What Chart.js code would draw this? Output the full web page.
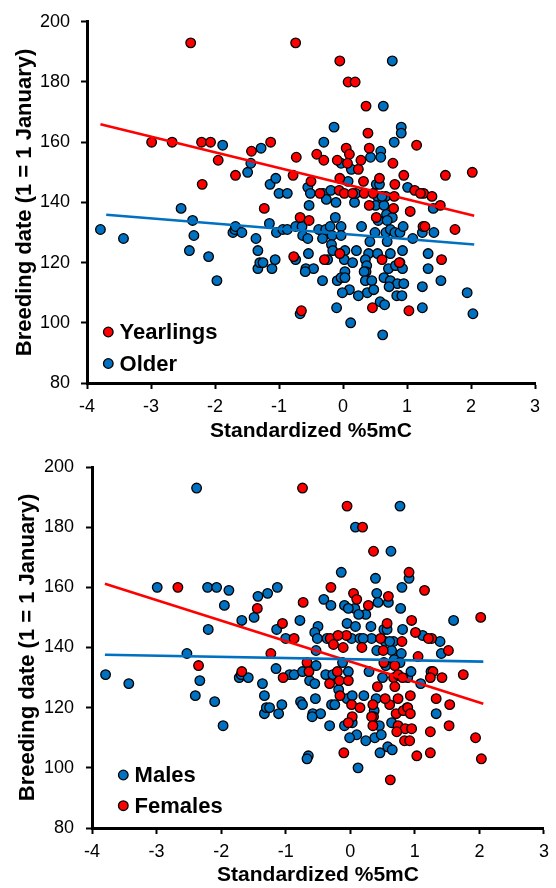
<!DOCTYPE html>
<html>
<head>
<meta charset="utf-8">
<script src="https://cdn.jsdelivr.net/npm/chart.js@4.4.1/dist/chart.umd.min.js"></script>
<style>
  html, body { margin: 0; padding: 0; background: #fff; }
  canvas { display: block; }
</style>
</head>
<body>
<canvas id="top" width="556" height="444"></canvas>
<canvas id="bottom" width="556" height="444"></canvas>
<script>
// ---------- DATA ----------
const yearlingX = [-2.38,-2.99,-2.67,-2.21,-2.07,-1.95,-2.20,-1.68,-1.43,-1.13,
  -1.23,-0.74,-0.05,0.08,0.19,0.36,0.39,1.15,-0.73,-0.41,
  -0.30,0.05,0.10,0.41,-0.09,0.07,0.28,0.24,0.78,0.95,
  1.60,2.02,-0.78,-0.50,-0.05,0.32,0.57,0.81,1.12,1.26,
  1.21,1.39,-0.36,-0.06,0.02,0.15,0.33,0.47,0.80,-0.67,
  -0.53,0.41,0.52,0.79,1.05,1.52,1.25,1.28,1.75,-0.05,
  -0.77,-0.29,0.61,0.88,1.54,0.46,1.03,-0.65];
const yearlingY = [193,160,160,160,160,154,146,149,157,160,
  138,193,187,180,180,172,163,159,155,156,
  154,158,156,158,154,153,154,151,153,149,
  149,150,149,147,148,147,148,146,144,143,
  143,142,143,144,143,143,143,143,142,135,
  134,139,135,138,137,139,132,132,131,123,
  122,121,121,120,121,105,104,104];
const yearlingSex = ("MMFMMMMMMM" + "FFFMFFMFFM" + "MFFMMMFMMF" + "MFMMMMFMMF" +
  "FMMFMMMFFF" + "MMFMFFMFFM" + "MMFFFMFM").split("");

const olderX = [-1.88,-1.49,-1.44,-1.28,-1.14,-1.05,-1.00,-3.79,-3.43,-2.53,
  -2.35,-2.33,-2.40,-2.10,-1.97,-1.72,-1.69,-1.68,-1.58,-1.36,
  -1.33,-1.33,-1.30,-1.25,-1.11,-1.06,-1.15,-1.04,0.77,0.63,
  -0.14,0.91,0.91,-0.30,0.80,0.59,0.43,0.59,-0.03,0.13,
  -0.55,0.08,0.52,0.57,1.01,-0.87,-0.51,-0.31,-0.19,0.54,
  0.67,-0.53,-0.94,-0.87,-0.74,-0.64,-0.63,-0.55,-0.38,-0.32,
  -0.27,-0.20,-0.17,-0.18,-0.16,-0.12,-0.03,-0.03,0.18,0.20,
  0.51,0.64,0.61,0.68,0.77,0.55,0.69,1.41,0.29,0.50,
  0.67,0.69,0.42,0.74,0.81,0.89,0.94,1.09,1.24,1.42,
  0.21,0.03,0.40,0.54,0.74,0.93,1.33,-0.54,-0.74,-0.24,
  0.02,0.15,0.35,0.37,0.36,0.71,0.82,0.89,0.93,1.33,
  -0.58,-0.46,-0.59,0.03,0.33,-0.32,-0.09,-0.03,0.03,0.35,
  0.45,0.64,0.74,0.85,0.95,0.72,1.53,1.24,0.10,-0.01,
  0.38,0.48,0.24,0.84,0.92,1.94,-0.10,0.58,0.65,1.24,
  -0.67,2.03,0.12,0.62,-0.26,-0.11];
const olderY = [159,150,153,158,146,148,143,131,128,138,
  134,129,124,122,114,130,131,132,130,128,
  124,118,120,120,118,121,133,130,187,172,
  165,165,163,160,160,157,155,155,153,151,
  145,147,146,146,145,143,143,143,144,142,
  142,139,131,131,132,132,129,128,131,128,
  131,132,129,126,124,135,132,129,140,143,
  139,139,142,136,135,134,134,138,132,130,
  130,127,127,131,130,130,132,128,130,130,
  124,124,123,123,123,124,123,123,121,121,
  121,120,121,119,117,118,119,120,118,118,
  118,118,117,117,117,114,114,115,115,114,
  114,115,114,113,113,112,114,112,111,110,
  110,111,109,109,109,110,105,107,106,105,
  103,103,100,96,141,140];
const olderSex = ("MMFMMFMMMM" + "FMMMMMMFMM" + "MMMMMMMFMM" + "MFMFMFMMMM" +
  "MMMMFFMFFM" + "MMMMMFMMMF" + "MFFMFMMFFM" + "FMMMMMFMMM" +
  "FFFFFMMMFF" + "MMMFFFFMMM" + "FFFMFFFFFM" + "MMMFFMMFMF" +
  "MMFFFFFFMM" + "MMMFFFFMMF" + "MFMFFF").split("");

// Trend lines (end points)
const yearlingTrendX = [-3.79, 2.05];
const yearlingTrendY = [166.0, 135.6];
const olderTrendX = [-3.70, 2.05];
const olderTrendY = [135.9, 126.0];
const maleTrendX = [-3.80, 2.06];
const maleTrendY = [137.6, 135.3];
const femaleTrendX = [-3.80, 2.06];
const femaleTrendY = [161.2, 121.3];

// Axis settings
const xTicks = [-4, -3, -2, -1, 0, 1, 2, 3];
const yTicks = [80, 100, 120, 140, 160, 180, 200];
const xTitle = "Standardized %5mC";
const yTitle = "Breeding date (1 = 1 January)";

// ---------- BUILD ----------
const RED = "#FF0000";
const BLUE = "#0070C0";
const FONT = "'Liberation Sans', Arial, sans-serif";

function pts(xs, ys) { return xs.map((x, i) => ({ x: x, y: ys[i] })); }
function pick(xs, ys, sex, s) {
  const out = [];
  xs.forEach((x, i) => { if (sex[i] === s) out.push({ x: x, y: ys[i] }); });
  return out;
}

const allX = yearlingX.concat(olderX);
const allY = yearlingY.concat(olderY);
const allSex = yearlingSex.concat(olderSex);

const insideLegend = {
  id: 'insideLegend',
  afterDraw(chart, args, opts) {
    const { ctx, chartArea } = chart;
    ctx.save();
    opts.items.forEach((idx, i) => {
      const ds = chart.data.datasets[idx];
      const y = chartArea.bottom + opts.rowY[i];
      ctx.beginPath();
      ctx.arc(chartArea.left + opts.markerX, y, 4.8, 0, Math.PI * 2);
      ctx.fillStyle = ds.backgroundColor;
      ctx.fill();
      ctx.lineWidth = 1.3;
      ctx.strokeStyle = '#000';
      ctx.stroke();
      ctx.font = "bold 22px " + FONT;
      ctx.fillStyle = '#000';
      ctx.textBaseline = 'middle';
      ctx.textAlign = 'left';
      ctx.fillText(ds.label, chartArea.left + opts.textX, y + 1);
    });
    ctx.restore();
  }
};

function scatterDs(label, data, color, order) {
  return { type: 'scatter', label: label, data: data, backgroundColor: color,
    borderColor: '#000', borderWidth: 1.3, pointRadius: 4.8, pointHoverRadius: 4.8, order: order };
}
function trendDs(label, data, color) {
  return { type: 'scatter', label: label, data: data, showLine: true, borderColor: color,
    backgroundColor: color, borderWidth: 2.6, pointRadius: 0, order: 0 };
}

function makeChart(id, datasets, cfg) {
  return new Chart(document.getElementById(id), {
    data: { datasets: datasets },
    plugins: [insideLegend],
    options: {
      responsive: false,
      animation: false,
      events: [],
      layout: { padding: { top: cfg.top, right: cfg.right, left: 0, bottom: 0 } },
      plugins: {
        legend: { display: false },
        tooltip: { enabled: false },
        insideLegend: cfg.legend
      },
      scales: {
        x: {
          type: 'linear', min: xTicks[0], max: xTicks[xTicks.length - 1],
          afterBuildTicks: (s) => { s.ticks = xTicks.map(v => ({ value: v })); },
          ticks: { color: '#000', font: { family: FONT, size: 18 }, padding: cfg.xPad, maxRotation: 0 },
          grid: { drawOnChartArea: false, drawTicks: true, tickLength: 6, tickWidth: 2, tickColor: '#000' },
          border: { display: true, color: '#000', width: 3 },
          title: { display: true, text: xTitle, color: '#000',
            font: { family: FONT, size: 21, weight: 'bold' }, padding: { top: 0, bottom: 0 } },
          afterFit: (s) => { s.height = cfg.xH; }
        },
        y: {
          type: 'linear', min: yTicks[0], max: yTicks[yTicks.length - 1],
          afterBuildTicks: (s) => { s.ticks = yTicks.map(v => ({ value: v })); },
          ticks: { color: '#000', font: { family: FONT, size: 18 }, padding: cfg.yPad },
          grid: { drawOnChartArea: false, drawTicks: true, tickLength: 6, tickWidth: 2, tickColor: '#000' },
          border: { display: true, color: '#000', width: 3 },
          title: { display: true, text: yTitle, color: '#000',
            font: { family: FONT, size: 22, weight: 'bold' }, padding: { top: cfg.yTitlePad, bottom: 0 } },
          afterFit: (s) => { s.width = cfg.yW; }
        }
      }
    }
  });
}

// Top: Yearlings vs Older
makeChart('top', [
  trendDs('Yearlings trend', pts(yearlingTrendX, yearlingTrendY), RED),
  trendDs('Older trend', pts(olderTrendX, olderTrendY), BLUE),
  scatterDs('Yearlings', pts(yearlingX, yearlingY), RED, 1),
  scatterDs('Older', pts(olderX, olderY), BLUE, 2)
], { top: 21, right: 21, xH: 61, yW: 87, xPad: 7, yPad: 11, yTitlePad: 12,
     legend: { items: [2, 3], rowY: [-51, -19.5], markerX: 21.3, textX: 32.6 } });

// Bottom: Males vs Females
makeChart('bottom', [
  trendDs('Males trend', pts(maleTrendX, maleTrendY), BLUE),
  trendDs('Females trend', pts(femaleTrendX, femaleTrendY), RED),
  scatterDs('Males', pick(allX, allY, allSex, 'M'), BLUE, 2),
  scatterDs('Females', pick(allX, allY, allSex, 'F'), RED, 1)
], { top: 23, right: 5, xH: 60, yW: 92, xPad: 7, yPad: 12, yTitlePad: 15,
     legend: { items: [2, 3], rowY: [-53, -22.3], markerX: 31.3, textX: 42.6 } });
</script>
</body>
</html>
